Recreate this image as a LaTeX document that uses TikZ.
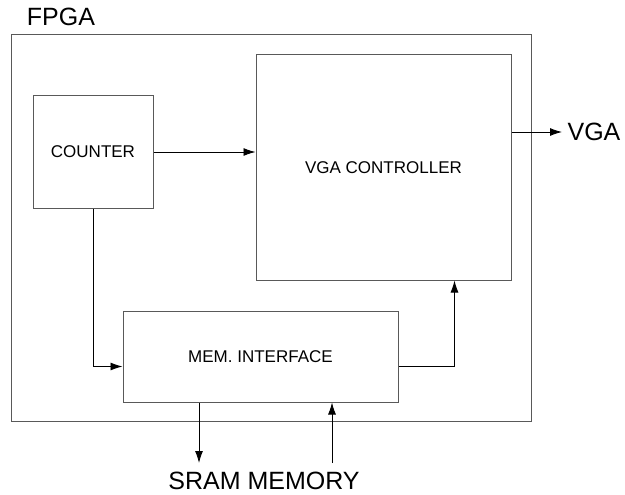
\documentclass[tikz,border=0pt]{standalone}
\usepackage{fontspec}
\setmainfont{Liberation Sans}
\usetikzlibrary{arrows.meta,calc,positioning}

\begin{document}
\begin{tikzpicture}[x=1pt, y=-1pt,
    blk/.style={draw=black!65, line width=1pt, rectangle, inner sep=0pt},
    sig/.style={draw=black, line width=0.9pt, -{Latex[length=12pt,width=8pt]}},
    big/.style={inner sep=0pt, font=\fontsize{25}{30}\selectfont},
    small/.style={font=\fontsize{17}{20}\selectfont}]
\useasboundingbox (0,0) rectangle (625,495);

% Draw the FPGA outline and its label
\node[blk, minimum width=520pt, minimum height=386pt] (fpga) at (271,228) {};
\node[big] (fpgalabel) at (61,17) {FPGA};

% Draw the three blocks inside
\node[blk, small, minimum width=120pt, minimum height=112pt] (counter) at (93,152) {COUNTER};
\node[blk, small, minimum width=255pt, minimum height=225pt] (vgactrl) at (383.5,167.5) {VGA CONTROLLER};
\node[blk, small, minimum width=275pt, minimum height=91pt] (mem) at (260.5,356.5) {MEM. INTERFACE};

% Outside labels
\node[big] (vgalabel) at (594,132) {VGA};
\node[big] (sram) at (264,481) {SRAM MEMORY};
\coordinate (vgaout) at (562,132);
\coordinate (sramout) at (199,463);
\coordinate (sramin) at (332,463);
\coordinate (upcol) at (454.5,300);

% Connect the blocks
\draw[sig] (counter.east) -- (counter.east -| vgactrl.west);
\draw[sig] (vgaout -| vgactrl.east) -- (vgaout);
\draw[sig] (counter.south) |- ([yshift=-10pt]mem.west);
\draw[sig] ([yshift=-10pt]mem.east) -| (vgactrl.south -| upcol);
\draw[sig] (mem.south -| sramout) -- (sramout);
\draw[sig] (sramin) -- (mem.south -| sramin);

\end{tikzpicture}
\end{document}
